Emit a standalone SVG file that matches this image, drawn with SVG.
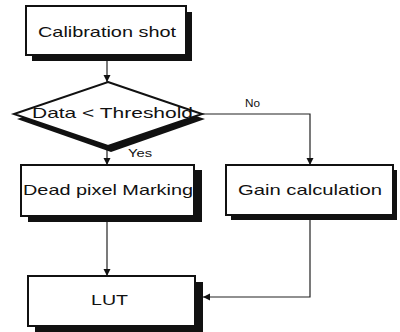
<svg xmlns="http://www.w3.org/2000/svg" width="400" height="332" viewBox="0 0 400 332">
<style>
.box{fill:#fff;stroke:#111;stroke-width:2}
.shadow{fill:#111;stroke:none}
.lbl{font-family:"Liberation Sans",Arial,sans-serif;font-size:15px;fill:#111;text-anchor:middle}
.small{font-family:"Liberation Sans",Arial,sans-serif;font-size:11px;fill:#111}
.conn{fill:none;stroke:#222;stroke-width:1.2}
</style>
<defs>
<marker id="arr" markerUnits="userSpaceOnUse" markerWidth="8" markerHeight="8" refX="7" refY="3.5" orient="auto">
<path d="M0,0 L7,3.5 L0,7 z" fill="#111"/>
</marker>
</defs>
<rect width="400" height="332" fill="#fff"/>
<g id="connectors">
<line class="conn" x1="107" y1="60" x2="107" y2="82" marker-end="url(#arr)"/>
<line class="conn" x1="107" y1="150" x2="107" y2="165" marker-end="url(#arr)"/>
<polyline class="conn" points="202,114 310,114 310,165" marker-end="url(#arr)"/>
<line class="conn" x1="107" y1="221" x2="107" y2="276" marker-end="url(#arr)"/>
<polyline class="conn" points="310,219 310,297 203,297" marker-end="url(#arr)"/>
</g>
<g id="calibration">
<rect class="shadow" x="32" y="12" width="160" height="49"/>
<rect class="box" x="26" y="6" width="160" height="49"/>
<text class="lbl" x="107" y="37" textLength="138" lengthAdjust="spacingAndGlyphs">Calibration shot</text>
</g>
<g id="decision">
<polygon class="shadow" points="111,88 205,119 111,152 17,119"/>
<polygon class="box" points="108,82 202,114 108,146 14,114"/>
<text class="lbl" x="112.5" y="118" textLength="161" lengthAdjust="spacingAndGlyphs">Data &lt; Threshold</text>
<text class="small" x="128" y="157" textLength="24" lengthAdjust="spacingAndGlyphs">Yes</text>
<text class="small" x="245" y="107" textLength="15" lengthAdjust="spacingAndGlyphs">No</text>
</g>
<g id="deadpixel">
<rect class="shadow" x="28" y="170" width="174" height="52"/>
<rect class="box" x="21" y="165" width="173" height="51"/>
<text class="lbl" x="108" y="195" textLength="170" lengthAdjust="spacingAndGlyphs">Dead pixel Marking</text>
</g>
<g id="gain">
<rect class="shadow" x="231" y="170" width="166" height="50"/>
<rect class="box" x="226" y="165" width="167" height="50"/>
<text class="lbl" x="310" y="195" textLength="144" lengthAdjust="spacingAndGlyphs">Gain calculation</text>
</g>
<g id="lut">
<rect class="shadow" x="35" y="282" width="168" height="50"/>
<rect class="box" x="28" y="276" width="167" height="50"/>
<text class="lbl" x="109.5" y="305" textLength="37" lengthAdjust="spacingAndGlyphs">LUT</text>
</g>
</svg>
